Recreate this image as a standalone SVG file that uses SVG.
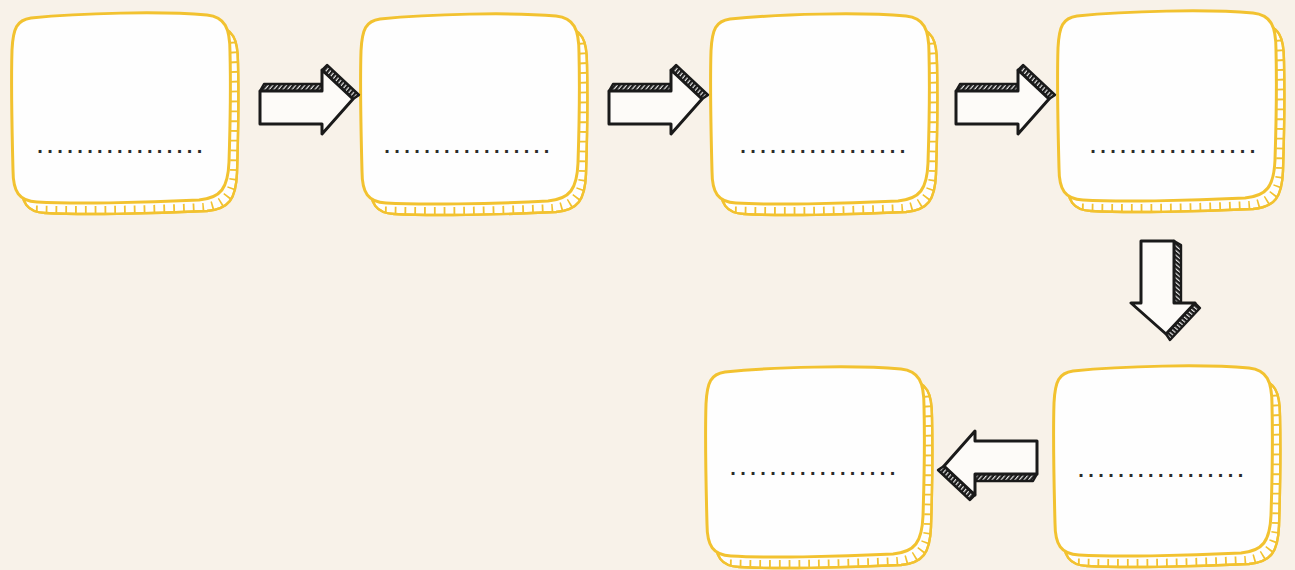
<svg xmlns="http://www.w3.org/2000/svg" xmlns:xlink="http://www.w3.org/1999/xlink" width="1295" height="570" viewBox="0 0 1295 570">
<style>
.front{fill:#fefefe;stroke:#f2c230;stroke-width:3;stroke-linejoin:round}
.back{fill:#fefefe;stroke:#f2c230;stroke-width:2.4;stroke-linejoin:round}
.ticks{fill:none;stroke:#f2c230;stroke-width:14;stroke-dasharray:1.8 8}
.dots{font-family:"Liberation Sans",Arial,sans-serif;font-size:20px;font-weight:bold;fill:#2a2a2a;letter-spacing:4.4px;text-anchor:middle}
.arw{fill:#fdfbf8;stroke:#1a1a1a;stroke-width:3;stroke-linejoin:round}
.hat{fill:url(#hatch);stroke:#1a1a1a;stroke-width:2.4;stroke-linejoin:round}
</style>
<defs>
<pattern id="hatch" patternUnits="userSpaceOnUse" width="3.5" height="3.5" patternTransform="rotate(40)">
<rect width="3.5" height="3.5" fill="#e8e8e8"/>
<rect width="2.3" height="3.5" fill="#1a1a1a"/>
</pattern>
<path id="bf" d="M20,6 C70,1 150,-1 196,3 C214,5 219,16 219,40 C220,80 219,120 218,150 C217,176 210,186 188,188 C130,191 60,192 26,190 C8,189 2,180 2,158 C1,120 0,70 1,38 C2,16 6,8 20,6 Z"/>
<clipPath id="bc"><use xlink:href="#bf" transform="translate(8,11)"/></clipPath>
<path id="bt" d="M223,20 C227,60 227,120 226,160 C225,187 212,196 192,198 C130,201 60,202 10,200"/>
<g id="box">
<use xlink:href="#bf" class="back" transform="translate(8,11)"/>
<use xlink:href="#bt" class="ticks" clip-path="url(#bc)"/>
<use xlink:href="#bf" class="back" transform="translate(8,11)" fill="none" style="fill:none"/>
<use xlink:href="#bf" class="front"/>
</g>
<g id="arrow">
<path class="hat" d="M0,-16 L4,-23 L62,-23 L62,-16 Z"/>
<path class="hat" d="M62,-37 L67,-42 L99,-12 L93,-8 Z"/>
<path class="arw" d="M0,-16 L62,-16 L62,-37 L93,-8 L62,27 L62,17 L0,17 Z"/>
</g>
</defs>
<rect width="1295" height="570" fill="#f8f2e9"/>
<g id="node1"><use xlink:href="#box" transform="translate(11,12)"/><text class="dots" x="122" y="153">.................</text></g>
<g id="node2"><use xlink:href="#box" transform="translate(360,13)"/><text class="dots" x="469" y="153">.................</text></g>
<g id="node3"><use xlink:href="#box" transform="translate(710,13)"/><text class="dots" x="825" y="153">.................</text></g>
<g id="node4"><use xlink:href="#box" transform="translate(1057,10)"/><text class="dots" x="1175" y="153">.................</text></g>
<g id="node5"><use xlink:href="#box" transform="translate(1053,365)"/><text class="dots" x="1163" y="477">.................</text></g>
<g id="node6"><use xlink:href="#box" transform="translate(705,366)"/><text class="dots" x="815" y="475">.................</text></g>
<g id="connectors">
<use xlink:href="#arrow" transform="translate(260,107)"/>
<use xlink:href="#arrow" transform="translate(609,107)"/>
<use xlink:href="#arrow" transform="translate(956,107)"/>
<use xlink:href="#arrow" transform="translate(1158,241) rotate(90)"/>
<use xlink:href="#arrow" transform="translate(1037,458) rotate(180)"/>
</g>
</svg>
